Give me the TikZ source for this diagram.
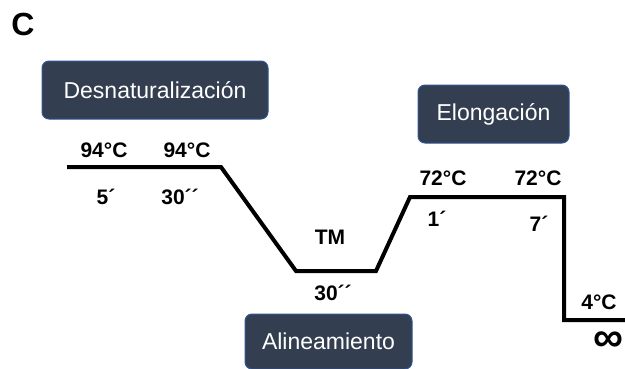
\documentclass[tikz,border=0pt]{standalone}
\usepackage{fontspec}
\setmainfont{Liberation Sans}
\definecolor{boxfill}{HTML}{333F50}
\definecolor{boxedge}{HTML}{2F5597}
\begin{document}
\begin{tikzpicture}[x=1pt,y=-1pt,
  phase/.style={rounded corners=7pt,fill=boxfill,draw=boxedge,line width=1pt,
    text=white,inner sep=0pt,font=\fontsize{23}{26}\selectfont},
  lbl/.style={inner sep=0pt,font=\fontsize{21}{24}\selectfont\bfseries}]
\useasboundingbox (0,0) rectangle (625,368);
\node[inner sep=0pt,font=\fontsize{32}{36}\selectfont\bfseries] (c) at (23,24.5) {C};
% phase boxes
\node[phase,minimum width=226pt,minimum height=58pt] (den) at (155,90) {Desnaturalización};
\node[phase,minimum width=151pt,minimum height=58pt] (elo) at (493.5,114) {Elongación};
\node[phase,minimum width=167pt,minimum height=55pt] (ali) at (328.5,341.5) {Alineamiento};
% temperature profile
\coordinate (p0) at (67,167);
\coordinate (p1) at (221,167);
\coordinate (p2) at (296,271);
\coordinate (p3) at (376,271);
\coordinate (p4) at (410,197);
\coordinate (p5) at (564,197);
\coordinate (p6) at (564,320);
\coordinate (p7) at (626,320);
\draw[line width=4pt,line join=miter] (p0) -- (p1) -- (p2) -- (p3) -- (p4) -- (p5) -- (p6) -- (p7);
% labels
\node[lbl] (t1) at (104,150) {94°C};
\node[lbl] (t2) at (187,150) {94°C};
\node[lbl] (d1) at (106,197) {5´};
\node[lbl] (d2) at (180,197) {30´´};
\node[lbl] (tm) at (330,237) {TM};
\node[lbl] (d3) at (333,293) {30´´};
\node[lbl] (t3) at (443,178) {72°C};
\node[lbl] (t4) at (538,178) {72°C};
\node[lbl] (d4) at (437,219) {1´};
\node[lbl] (d5) at (539,224) {7´};
\node[lbl] (t5) at (599,302) {4°C};
\node[inner sep=0pt,font=\fontsize{42}{44}\selectfont\bfseries] (inf) at (608,342) {∞};
\end{tikzpicture}
\end{document}
